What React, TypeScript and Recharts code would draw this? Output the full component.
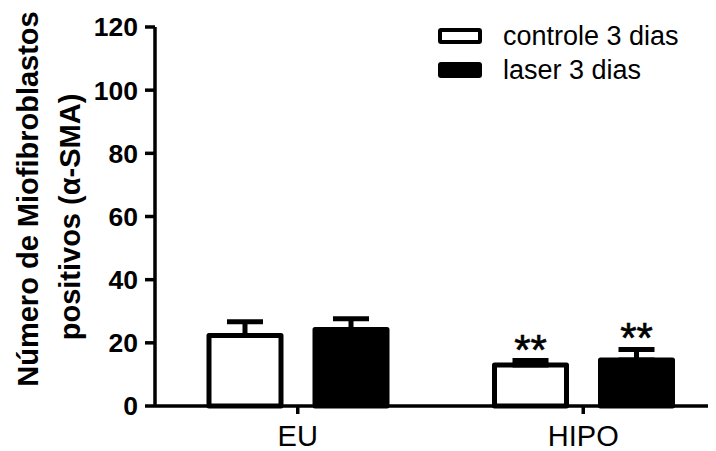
import React from 'react';
import { BarChart, Bar, XAxis, YAxis, ErrorBar, LabelList, Legend } from 'recharts';

const categories = ['EU', 'HIPO'];
const controleValues = [22.3, 13.0];
const controleErrors = [4.4, 1.4];
const laserValues = [24.2, 14.6];
const laserErrors = [3.4, 3.3];
const significance = ['', '**'];
const seriesNames = ['controle 3 dias', 'laser 3 dias'];
const seriesFills = ['#ffffff', '#000000'];
const yTicks = [0, 20, 40, 60, 80, 100, 120];
const yLabelLines = ['Número de Miofibroblastos', 'positivos (α-SMA)'];

const FONT = '"Liberation Sans", Arial, Helvetica, sans-serif';

const data = categories.map((c, i) => ({
  name: c,
  controle: controleValues[i],
  controleErr: [0, controleErrors[i]],
  laser: laserValues[i],
  laserErr: [0, laserErrors[i]],
  sig: significance[i],
}));

const makeStars = (values: number[], errors: number[]) => (props: any) => {
  const vb = props.viewBox && props.viewBox.width !== undefined ? props.viewBox : props;
  const { x, y, width, height } = vb;
  const index = props.index;
  const sig = significance[index];
  if (!sig) return null;
  const pxPerUnit = Math.abs(height) / values[index];
  const topY = Math.min(y, y + height) - errors[index] * pxPerUnit;
  return (
    <text
      x={x + width / 2}
      y={topY + 3}
      textAnchor="middle"
      fontSize={42}
      fontFamily={FONT}
      fill="#000"
      stroke="#000"
      strokeWidth={0.6}
    >
      {sig}
    </text>
  );
};

const YLabel = (props: any) => {
  const vb = props.viewBox || { x: 0, y: 19, width: 147, height: 379 };
  const lines = [
    { x: vb.x + 30, y: vb.y + 172 },
    { x: vb.x + 72, y: vb.y + 190 },
  ];
  return (
    <g>
      {yLabelLines.map((t, i) => (
        <text
          key={i}
          x={lines[i].x}
          y={lines[i].y}
          transform={`rotate(-90, ${lines[i].x}, ${lines[i].y})`}
          textAnchor="middle"
          fontSize={29}
          fontWeight="bold"
          fontFamily={FONT}
          fill="#000"
        >
          {t}
        </text>
      ))}
    </g>
  );
};

const LegendContent = () => (
  <div style={{ fontFamily: FONT, fontSize: 27, color: '#000' }}>
    {seriesNames.map((n, i) => (
      <div key={n} style={{ display: 'flex', alignItems: 'center', height: 34 }}>
        <div
          style={{
            width: 44,
            height: 16,
            boxSizing: 'border-box',
            border: '4.5px solid #000',
            borderRadius: 3,
            background: seriesFills[i],
            marginRight: 21,
          }}
        />
        <span style={{ lineHeight: '34px' }}>{n}</span>
      </div>
    ))}
  </div>
);

export default function App() {
  return (
    <div style={{ width: 708, height: 443, overflow: 'hidden' }}>
      <BarChart
        width={718}
        height={443}
        data={data}
        margin={{ top: 19, right: 0, bottom: 0, left: 0 }}
        barSize={72}
        barGap={34}
      >
        <XAxis
          dataKey="name"
          height={45}
          axisLine={{ stroke: '#000', strokeWidth: 3.5 }}
          tickLine={{ stroke: '#000', strokeWidth: 3.5 }}
          tickSize={8}
          tickMargin={11}
          tick={{ fontSize: 29, fill: '#000', fontFamily: FONT }}
        />
        <YAxis
          width={147}
          domain={[0, 120]}
          ticks={yTicks}
          interval={0}
          axisLine={{ stroke: '#000', strokeWidth: 3.5 }}
          tickLine={{ stroke: '#000', strokeWidth: 3.5 }}
          tickSize={10}
          tickMargin={7}
          tick={{ fontSize: 26.5, fontWeight: 'bold', fill: '#000', fontFamily: FONT }}
          label={{ content: YLabel }}
        />
        <Legend
          layout="horizontal"
          verticalAlign="middle"
          align="center"
          content={LegendContent}
          wrapperStyle={{ position: 'absolute', top: 11, left: 430, width: 270 }}
        />
        <Bar
          dataKey="controle"
          name={seriesNames[0]}
          fill={seriesFills[0]}
          stroke="#000"
          strokeWidth={5}
          strokeLinejoin="round"
          isAnimationActive={false}
        >
          <ErrorBar dataKey="controleErr" width={18} stroke="#000" strokeWidth={5} direction="y" />
          <LabelList dataKey="sig" content={makeStars(controleValues, controleErrors)} />
        </Bar>
        <Bar
          dataKey="laser"
          name={seriesNames[1]}
          fill={seriesFills[1]}
          stroke="#000"
          strokeWidth={5}
          strokeLinejoin="round"
          isAnimationActive={false}
        >
          <ErrorBar dataKey="laserErr" width={18} stroke="#000" strokeWidth={5} direction="y" />
          <LabelList dataKey="sig" content={makeStars(laserValues, laserErrors)} />
        </Bar>
      </BarChart>
    </div>
  );
}
